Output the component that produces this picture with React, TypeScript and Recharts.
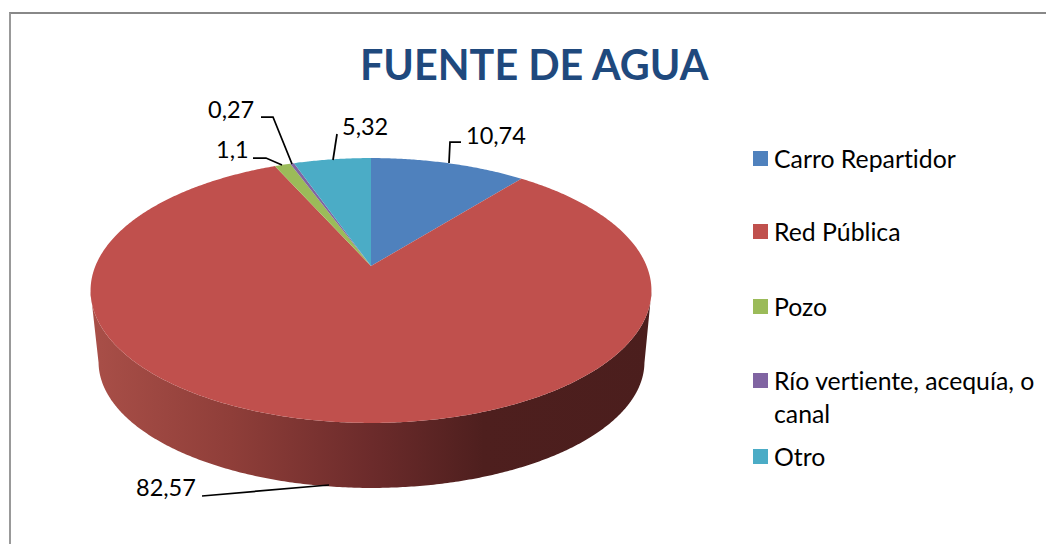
import { Legend, Pie, PieChart } from "recharts";

const categories = [
  "Carro Repartidor",
  "Red Pública",
  "Pozo",
  "Río vertiente, acequía, o canal",
  "Otro",
];
const shares = [10.74, 82.57, 1.1, 0.27, 5.32];
const colors = ["#4F81BD", "#C0504D", "#9BBB59", "#8064A2", "#4BACC6"];

const tableData = categories.map((name, i) => ({
  name,
  value: shares[i],
  fill: colors[i],
}));

// where each data label and its leader line sit, in series order
const labelLayout = [
  { x: 466, y: 144, line: "449,163 450,142 461,142" },
  { x: 136, y: 496, line: "202,496 329,485" },
  { x: 216, y: 158, line: "253,158 266,158 282,165" },
  { x: 208, y: 118, line: "261,117 273,117 292,164" },
  { x: 342, y: 135, line: "333,160 337,134" },
];
const legendRowTops = [142, 215, 290, 364, 440];

const FONT = "Lato, 'Open Sans', sans-serif";

// tilted pie: circle seen in perspective, so the apex is above the ellipse centre
const TILT = -0.185;
const SQUASH = 78.7;
const TOP_CY = 290.5;
const TOP_RY = 132.5;
const TOP_RX = 280.5;
const BASE_CX = 371.5;
const BASE_CY = 362;
const BASE_RX = 273;
const BASE_RY = 126;

function project(cx: number, cy: number, r: number, deg: number) {
  const a = (deg * Math.PI) / 180;
  const u = Math.cos(a);
  const v = -Math.sin(a);
  const w = 1 + TILT * v;
  return { x: cx + (r * u) / w, y: (SQUASH * v + cy) / w };
}

function TiltedSector(props: any) {
  const { cx, cy, outerRadius, startAngle, endAngle, fill, index } = props;
  const top: { x: number; y: number }[] = [];
  const step = startAngle > endAngle ? -0.5 : 0.5;
  const n = Math.max(1, Math.round((endAngle - startAngle) / step));
  for (let i = 0; i <= n; i++) {
    top.push(project(cx, cy, outerRadius, startAngle + ((endAngle - startAngle) * i) / n));
  }
  const front = top.filter((p) => p.y >= TOP_CY);
  const base = front.map((p) => {
    const ex = (p.x - cx) / TOP_RX;
    const ey = (p.y - TOP_CY) / TOP_RY;
    return { x: BASE_CX + BASE_RX * ex, y: BASE_CY + BASE_RY * ey };
  });
  const wall = [...front, ...base.reverse()].map((p) => `${p.x},${p.y}`).join(" ");
  const face = [{ x: cx, y: cy }, ...top].map((p) => `${p.x},${p.y}`).join(" ");
  return (
    <g>
      <defs>
        <linearGradient
          id={`wall-${index}`}
          gradientUnits="userSpaceOnUse"
          x1="91"
          y1="0"
          x2="652"
          y2="0"
        >
          <stop offset="0" stopColor="#A94F48" />
          <stop offset="0.25" stopColor="#8F3E39" />
          <stop offset="0.5" stopColor="#6C2B2B" />
          <stop offset="0.7" stopColor="#4E1F1E" />
          <stop offset="1" stopColor="#4B1E1D" />
        </linearGradient>
      </defs>
      {front.length > 1 && <polygon points={wall} fill={`url(#wall-${index})`} />}
      <polygon points={face} fill={fill} />
    </g>
  );
}

function renderLabel(props: any) {
  const { index, value } = props;
  const spot = labelLayout[index];
  return (
    <g key={index}>
      <polyline points={spot.line} fill="none" stroke="#000" strokeWidth={1.75} />
      <text x={spot.x} y={spot.y} fontFamily={FONT} fontSize={23.5} fill="#000">
        {String(value).replace(".", ",")}
      </text>
    </g>
  );
}

function renderLegend(props: any) {
  const { payload } = props;
  return (
    <div>
      {payload.map((entry: any, i: number) => (
        <div
          key={entry.value}
          style={{ position: "absolute", left: 753, top: legendRowTops[i], width: 292 }}
        >
          <div
            style={{
              position: "absolute",
              left: 0,
              top: i === 4 ? 9 : 9,
              width: 15,
              height: 15,
              background: entry.color,
            }}
          />
          <div
            style={{
              marginLeft: 21,
              fontFamily: FONT,
              fontSize: 24.8,
              lineHeight: "33px",
              color: "#000",
              fontVariantLigatures: "none",
            }}
          >
            {entry.value}
          </div>
        </div>
      ))}
    </div>
  );
}

export default function App() {
  return (
    <div
      style={{
        position: "absolute",
        left: 0,
        top: 0,
        width: 1046,
        height: 544,
        background: "#fff",
        overflow: "hidden",
      }}
    >
      <div
        style={{
          position: "absolute",
          left: 9,
          top: 12,
          width: 1037,
          height: 532,
          borderTop: "2px solid #888",
          borderLeft: "2px solid #999",
          boxSizing: "border-box",
        }}
      />
      <div
        style={{
          position: "absolute",
          left: 360,
          top: 38,
          fontFamily: FONT,
          fontWeight: 700,
          fontSize: 41.3,
          lineHeight: "52px",
          color: "#1F497D",
          whiteSpace: "nowrap",
        }}
      >
        FUENTE DE AGUA
      </div>
      <PieChart width={1046} height={544} margin={{ top: 0, right: 0, bottom: 0, left: 0 }}>
        <Pie
          data={tableData}
          dataKey="value"
          nameKey="name"
          cx={371}
          cy={266}
          innerRadius={0}
          outerRadius={275.6}
          startAngle={90}
          endAngle={-270}
          stroke="none"
          shape={TiltedSector}
          label={renderLabel}
          labelLine={false}
          isAnimationActive={false}
        />
        <Legend
          content={renderLegend}
          itemSorter={null}
          wrapperStyle={{ position: "absolute", left: 0, top: 0, width: 1046, height: 544 }}
        />
      </PieChart>
    </div>
  );
}
